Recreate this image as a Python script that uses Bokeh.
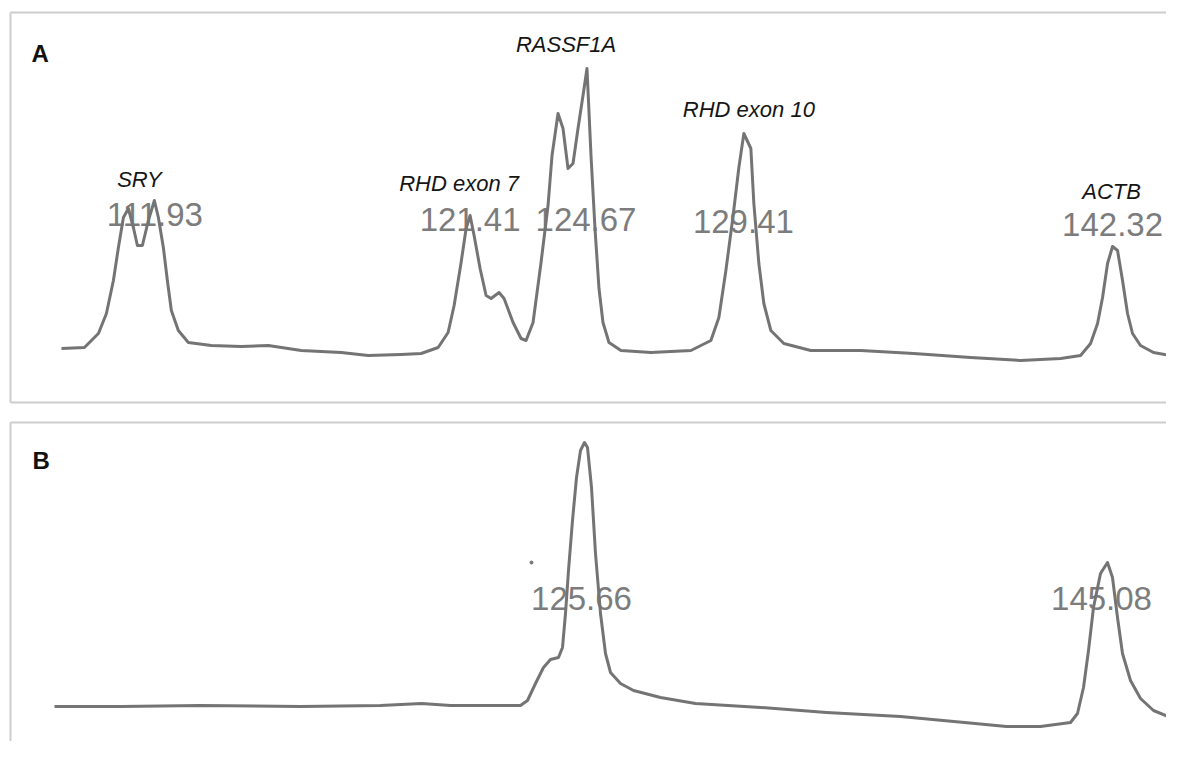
from bokeh.plotting import figure
from bokeh.models import Range1d, LinearAxis, FixedTicker
from bokeh.layouts import column
from bokeh.embed import file_html
from bokeh.resources import INLINE
from bokeh.core.properties import value

# ---------------- data (x: relative migration, y: fluorescence, RFU) ----------------
# Panel A: multiplex (SRY, RHD exon 7, RASSF1A, RHD exon 10, ACTB)
trace_a_x = [51, 74, 88, 96, 103, 108, 113, 118, 123, 127, 132, 138, 144, 148, 153, 157, 161, 168, 178,
             201, 231, 258, 291, 331, 358, 391, 411, 428, 438, 444, 451, 456, 460, 464, 470, 476, 481,
             489, 494, 503, 511, 516, 523, 531, 538, 542, 548, 553, 558, 563, 568, 573, 577, 581, 585,
             589, 593, 599, 611, 641, 681, 701, 709, 716, 723, 729, 734, 741, 744, 749, 754, 761, 774,
             801, 851, 904, 961, 1011, 1051, 1071, 1081, 1088, 1093, 1098, 1103, 1108, 1113, 1118,
             1123, 1131, 1144, 1173]
trace_a_y = [1350, 1375, 1725, 2225, 3050, 3875, 4625, 4850, 4375, 3925, 3925, 4550, 5050, 4625, 3875,
             3050, 2300, 1800, 1500, 1425, 1400, 1425, 1300, 1250, 1175, 1200, 1225, 1375, 1750, 2425,
             3500, 4350, 4675, 4175, 3350, 2675, 2600, 2750, 2600, 2000, 1600, 1550, 2000, 3500, 4925,
             6175, 7225, 6850, 5850, 5975, 6850, 7675, 8350, 6175, 4350, 2850, 2000, 1500, 1300, 1250,
             1300, 1550, 2125, 3300, 4625, 5875, 6725, 6350, 4975, 3475, 2475, 1800, 1475, 1300, 1300,
             1225, 1125, 1050, 1100, 1175, 1475, 1975, 2625, 3475, 3900, 3800, 3050, 2225, 1725, 1425,
             1250, 1125]

# Panel B: (RASSF1A, ACTB)
trace_b_x = [44, 110, 190, 290, 370, 411, 440, 510, 517, 525, 533, 540, 548, 552, 555, 558, 562, 566,
             570, 574, 577, 581, 585, 590, 595, 600, 610, 623, 650, 685, 750, 816, 890, 954, 996, 1030,
             1060, 1067, 1073, 1078, 1083, 1090, 1097, 1102, 1107, 1112, 1120, 1130, 1143, 1160, 1172]
trace_b_y = [1275, 1275, 1300, 1275, 1300, 1350, 1300, 1300, 1425, 1850, 2250, 2450, 2500, 2750, 3600,
             4675, 5925, 7000, 7675, 7875, 7750, 6750, 5100, 3600, 2600, 2125, 1850, 1675, 1500, 1350,
             1250, 1125, 1025, 875, 775, 775, 875, 1100, 1750, 2675, 3750, 4600, 4875, 4500, 3500, 2600,
             1925, 1475, 1175, 1000, 850]
artifact_b_x = [521]
artifact_b_y = [4875]

# Peak size calls (bp) and gene labels
sizes_a = ["111.93", "121.41", "124.67", "129.41", "142.32"]
genes_a = ["SRY", "RHD exon 7", "RASSF1A", "RHD exon 10", "ACTB"]
sizes_b = ["125.66", "145.08"]
panel_a = ["A"]
panel_b = ["B"]

# ---------------- label placement ----------------
size_a_x = [144.5, 460, 576, 733.5, 1103]
size_a_y = [4700, 4575, 4575, 4525, 4450]
gene_a_x = [129, 449, 556, 739, 1102]
gene_a_y = [5580, 5480, 8955, 7330, 5280]
size_b_x = [571, 1091]
size_b_y = [3975, 3975]

LINE = "#747474"
NUM = "#7c7c7c"
BORDER = "#cdcdcd"
FONT = "Liberation Sans"


def border(fig, loc):
    ax = LinearAxis(ticker=FixedTicker(ticks=[]), axis_line_color=BORDER, axis_line_width=2,
                    major_tick_out=0, major_tick_in=0, minor_tick_out=0, minor_tick_in=0,
                    major_label_standoff=0, major_label_text_font_size="0px", axis_label=None)
    fig.add_layout(ax, loc)


def base_fig(h, xr, yr, **kw):
    p = figure(width=1166, height=h, x_range=xr, y_range=yr, output_backend="svg",
               toolbar_location=None, x_axis_location=None, y_axis_location=None,
               background_fill_color="white", border_fill_color="white",
               outline_line_color=None, **kw)
    p.xgrid.grid_line_color = None
    p.ygrid.grid_line_color = None
    return p


# ---------------- panel A ----------------
pa = base_fig(412, Range1d(0, 1157), Range1d(0, 9750),
              min_border_left=9, min_border_right=0, min_border_top=12, min_border_bottom=10)
border(pa, "left")
border(pa, "above")
border(pa, "below")

pa.text(x=size_a_x, y=size_a_y, text=sizes_a, text_align="center", text_baseline="alphabetic",
        text_font=value(FONT), text_font_size="33px", text_color=NUM)
pa.line(trace_a_x, trace_a_y, line_color=LINE, line_width=3, line_join="round")
pa.text(x=gene_a_x, y=gene_a_y, text=genes_a, text_align="center", text_baseline="alphabetic",
        text_font=value(FONT), text_font_size="22px", text_font_style="italic", text_color="#151515")
pa.text(x=[21], y=[8725], text=panel_a, text_align="left", text_baseline="alphabetic",
        text_font=value(FONT), text_font_size="24px", text_font_style="bold", text_color="#111111")

# ---------------- panel B ----------------
pb = base_fig(329, Range1d(0, 1156), Range1d(400, 8375),
              min_border_left=10, min_border_right=0, min_border_top=10, min_border_bottom=0)
border(pb, "left")
border(pb, "above")

pb.text(x=size_b_x, y=size_b_y, text=sizes_b, text_align="center", text_baseline="alphabetic",
        text_font=value(FONT), text_font_size="33px", text_color=NUM)
pb.line(trace_b_x, trace_b_y, line_color=LINE, line_width=3, line_join="round")
pb.scatter(artifact_b_x, artifact_b_y, size=3, color=LINE)
pb.text(x=[22], y=[7425], text=panel_b, text_align="left", text_baseline="alphabetic",
        text_font=value(FONT), text_font_size="24px", text_font_style="bold", text_color="#111111")

layout = column(pa, pb, spacing=0)
open("out.html", "w").write(file_html(layout, INLINE))
